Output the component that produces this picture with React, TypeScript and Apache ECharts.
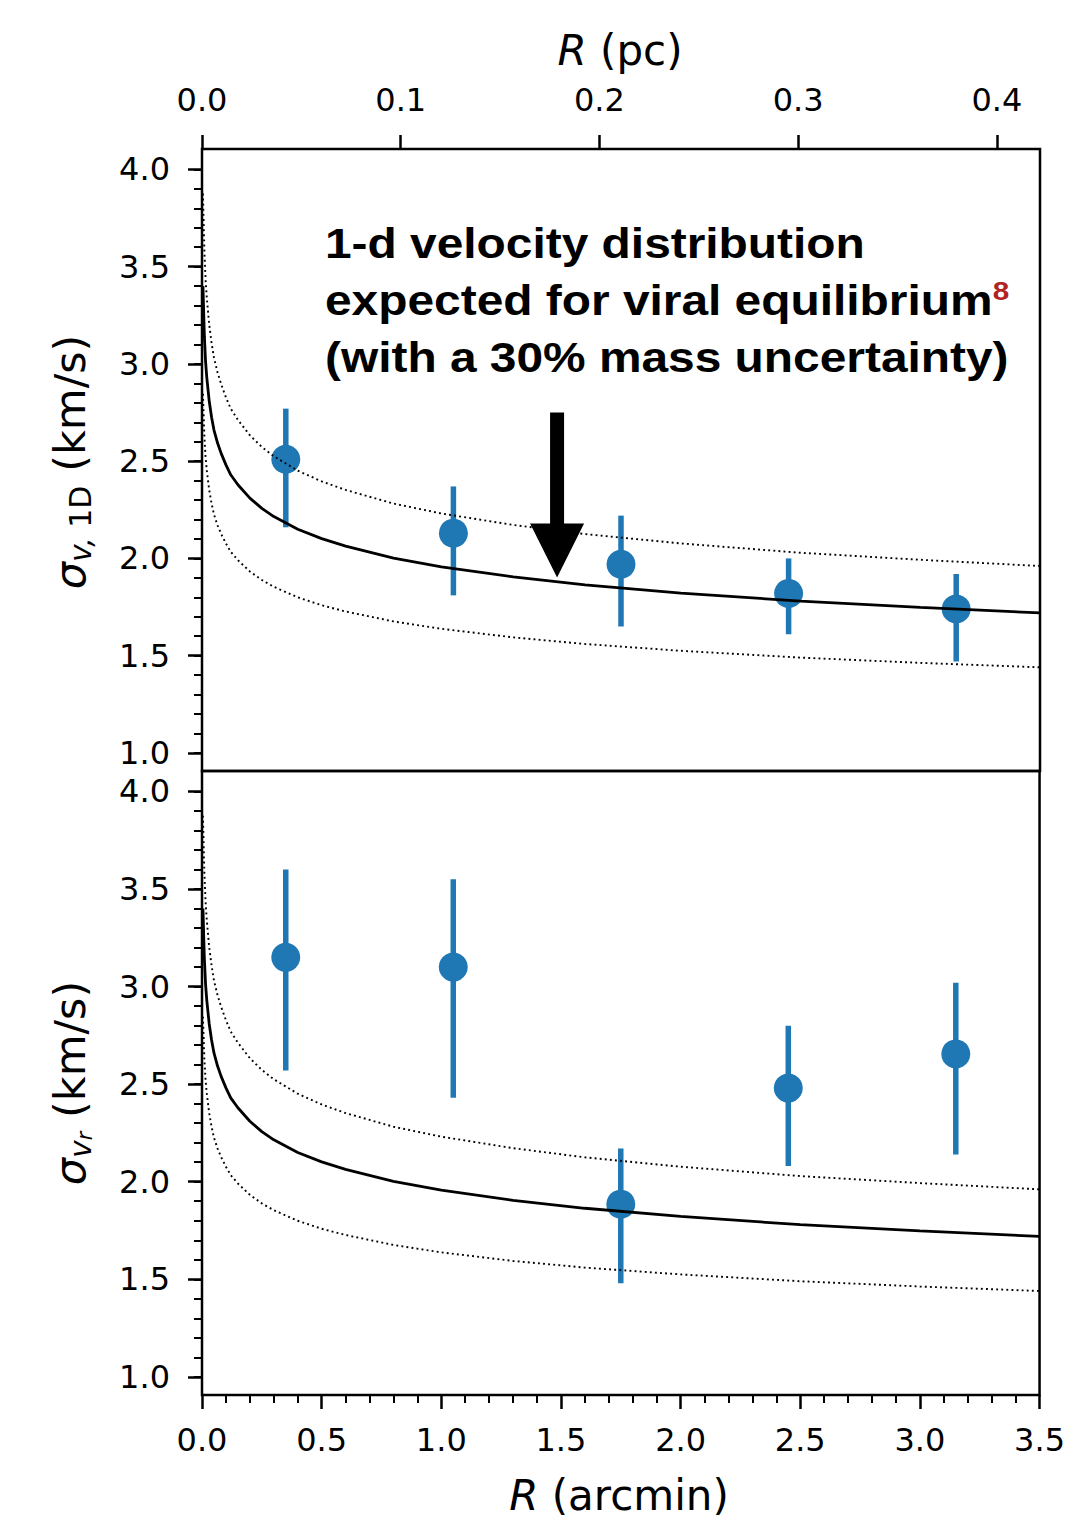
import React, { useEffect, useRef } from "react";
import * as echarts from "echarts";

// ---- data ----
const R_PTS = [0.35, 1.05, 1.75, 2.45, 3.15]; // arcmin
const SIG1D = [2.51, 2.13, 1.97, 1.82, 1.74];
const SIG1D_LO = [2.16, 1.81, 1.65, 1.61, 1.47];
const SIG1D_HI = [2.77, 2.37, 2.22, 2.0, 1.92];
const SIGR = [3.15, 3.1, 1.885, 2.48, 2.655];
const SIGR_LO = [2.57, 2.43, 1.48, 2.08, 2.14];
const SIGR_HI = [3.6, 3.55, 2.17, 2.8, 3.02];

// virial-equilibrium model curves
const R_CURVE = [0.004, 0.006, 0.008, 0.01, 0.015, 0.02, 0.03, 0.04, 0.05, 0.065, 0.08, 0.1, 0.12, 0.15, 0.2, 0.25, 0.3, 0.4, 0.5, 0.6, 0.8, 1.0, 1.3, 1.6, 2.0, 2.5, 3.0, 3.5];
const MODEL = [3.4, 3.31, 3.22, 3.14, 3.01, 2.93, 2.81, 2.726, 2.66, 2.593, 2.54, 2.481, 2.43, 2.379, 2.31, 2.257, 2.215, 2.15, 2.102, 2.063, 2.002, 1.957, 1.905, 1.864, 1.822, 1.78, 1.748, 1.72];
const MODEL_HI = [3.876, 3.773, 3.671, 3.58, 3.431, 3.34, 3.203, 3.108, 3.032, 2.956, 2.896, 2.828, 2.77, 2.712, 2.633, 2.573, 2.525, 2.451, 2.396, 2.352, 2.282, 2.231, 2.172, 2.125, 2.077, 2.029, 1.993, 1.961];
const MODEL_LO = [2.846, 2.77, 2.695, 2.628, 2.519, 2.452, 2.352, 2.282, 2.226, 2.17, 2.126, 2.077, 2.034, 1.991, 1.933, 1.889, 1.854, 1.8, 1.759, 1.727, 1.676, 1.638, 1.594, 1.56, 1.525, 1.49, 1.463, 1.44];

// arrow annotation: [R, tail value, tip value]
const ARROW = [1.483, 2.75, 1.902];

// ticks
const PC_TICKS = [0.0, 0.1, 0.2, 0.3, 0.4];
const SIG_TICKS = [1.0, 1.5, 2.0, 2.5, 3.0, 3.5, 4.0];
const SIG_MINOR = [1.0, 1.1, 1.2, 1.3, 1.4, 1.5, 1.6, 1.7, 1.8, 1.9, 2.0, 2.1, 2.2, 2.3, 2.4, 2.5, 2.6, 2.7, 2.8, 2.9, 3.0, 3.1, 3.2, 3.3, 3.4, 3.5, 3.6, 3.7, 3.8, 3.9, 4.0];

const ARCMIN_MIN = 0;
const ARCMIN_MAX = 3.5;
const PC_MAX = 0.4217;
const Y_MIN = 0.907;
const Y_MAX = 4.105;

const BLUE = "#1f77b4";
const FONT = "DejaVu Sans";

export default function App() {
  const ref = useRef<HTMLDivElement>(null);

  useEffect(() => {
    if (!ref.current) return;
    const chart = echarts.init(ref.current, null, { renderer: "svg" });

    const tickLabel = {
      fontFamily: FONT,
      fontSize: 32,
      color: "#000",
    };

    const majorY = (grid: number) => ({
      type: "value",
      gridIndex: grid,
      position: "left",
      min: Y_MIN,
      max: Y_MAX,
      axisLine: { show: false },
      splitLine: { show: false },
      axisTick: {
        show: true,
        length: 14,
        customValues: SIG_TICKS,
        lineStyle: { color: "#000", width: 2.5 },
      },
      axisLabel: {
        ...tickLabel,
        margin: 32,
        customValues: SIG_TICKS,
        formatter: (v: number) => v.toFixed(1),
      },
    });
    const minorY = (grid: number) => ({
      type: "value",
      gridIndex: grid,
      position: "left",
      min: Y_MIN,
      max: Y_MAX,
      axisLine: { show: false },
      splitLine: { show: false },
      axisLabel: { show: false },
      axisTick: {
        show: true,
        length: 8,
        customValues: SIG_MINOR,
        lineStyle: { color: "#000", width: 2 },
      },
    });

    const curveSeries = (xi: number, yi: number) => [
      {
        type: "line",
        xAxisIndex: xi,
        yAxisIndex: yi,
        data: R_CURVE.map((r, i) => [r, MODEL[i]]),
        showSymbol: false,
        symbol: "none",
        lineStyle: { color: "#000", width: 2.8 },
        z: 5,
        silent: true,
      },
      {
        type: "line",
        xAxisIndex: xi,
        yAxisIndex: yi,
        data: R_CURVE.map((r, i) => [r, MODEL_HI[i]]),
        showSymbol: false,
        symbol: "none",
        lineStyle: { color: "#000", width: 1.9, type: [1.9, 3.2] },
        z: 5,
        silent: true,
      },
      {
        type: "line",
        xAxisIndex: xi,
        yAxisIndex: yi,
        data: R_CURVE.map((r, i) => [r, MODEL_LO[i]]),
        showSymbol: false,
        symbol: "none",
        lineStyle: { color: "#000", width: 1.9, type: [1.9, 3.2] },
        z: 5,
        silent: true,
      },
    ];

    const pointSeries = (xi: number, yi: number, v: number[], lo: number[], hi: number[]) => [
      {
        type: "custom",
        xAxisIndex: xi,
        yAxisIndex: yi,
        data: R_PTS.map((r, i) => [r, lo[i], hi[i]]),
        encode: { x: 0, y: [1, 2] },
        renderItem: (params: any, api: any) => {
          const p1 = api.coord([api.value(0), api.value(1)]);
          const p2 = api.coord([api.value(0), api.value(2)]);
          return {
            type: "line",
            shape: { x1: p1[0], y1: p1[1], x2: p2[0], y2: p2[1] },
            style: { stroke: BLUE, lineWidth: 5.5 },
          };
        },
        z: 2,
        silent: true,
      },
      {
        type: "scatter",
        xAxisIndex: xi,
        yAxisIndex: yi,
        data: R_PTS.map((r, i) => [r, v[i]]),
        symbol: "circle",
        symbolSize: 29,
        itemStyle: { color: BLUE, opacity: 1 },
        z: 3,
        silent: true,
      },
    ];

    const arrowSeries = {
      type: "custom",
      xAxisIndex: 0,
      yAxisIndex: 0,
      data: [ARROW],
      encode: { x: 0, y: [1, 2] },
      renderItem: (params: any, api: any) => {
        const top = api.coord([api.value(0), api.value(1)]);
        const tip = api.coord([api.value(0), api.value(2)]);
        const x = tip[0];
        const headLen = 54;
        const headHalf = 27;
        const shaftHalf = 7;
        const hb = tip[1] - headLen;
        return {
          type: "polygon",
          shape: {
            points: [
              [x - shaftHalf, top[1]],
              [x + shaftHalf, top[1]],
              [x + shaftHalf, hb],
              [x + headHalf, hb],
              [x, tip[1]],
              [x - headHalf, hb],
              [x - shaftHalf, hb],
            ],
          },
          style: { fill: "#000" },
        };
      },
      z: 6,
      silent: true,
    };

    const annFont = {
      fontFamily: "Liberation Sans",
      fontWeight: "bold",
      fontSize: 42,
      fill: "#000",
    };
    const ANN_SCALE = 1.14;

    const option: any = {
      animation: false,
      backgroundColor: "#fff",
      grid: [
        { left: 202, top: 149, width: 838, height: 622, show: true, borderColor: "#000", borderWidth: 2.5, backgroundColor: "transparent" },
        { left: 202, top: 771, width: 838, height: 624, show: true, borderColor: "#000", borderWidth: 2.5, backgroundColor: "transparent" },
      ],
      xAxis: [
        {
          type: "value",
          gridIndex: 0,
          position: "bottom",
          min: ARCMIN_MIN,
          max: ARCMIN_MAX,
          show: false,
          splitLine: { show: false },
        },
        {
          type: "value",
          gridIndex: 0,
          position: "top",
          min: 0,
          max: PC_MAX,
          axisLine: { show: false },
          splitLine: { show: false },
          axisTick: {
            show: true,
            length: 14,
            customValues: PC_TICKS,
            lineStyle: { color: "#000", width: 2.5 },
          },
          axisLabel: {
            ...tickLabel,
            margin: 33,
            customValues: PC_TICKS,
            formatter: (v: number) => v.toFixed(1),
          },
        },
        {
          type: "value",
          gridIndex: 1,
          position: "bottom",
          min: ARCMIN_MIN,
          max: ARCMIN_MAX,
          interval: 0.5,
          axisLine: { show: false },
          splitLine: { show: false },
          axisTick: { show: true, length: 14, lineStyle: { color: "#000", width: 2.5 } },
          minorTick: { show: true, splitNumber: 5, length: 8, lineStyle: { color: "#000", width: 2 } },
          axisLabel: {
            ...tickLabel,
            margin: 29,
            showMinLabel: true,
            showMaxLabel: true,
            formatter: (v: number) => v.toFixed(1),
          },
        },
      ],
      yAxis: [majorY(0), minorY(0), majorY(1), minorY(1)],
      series: [
        ...pointSeries(0, 0, SIG1D, SIG1D_LO, SIG1D_HI),
        ...curveSeries(0, 0),
        arrowSeries,
        ...pointSeries(2, 2, SIGR, SIGR_LO, SIGR_HI),
        ...curveSeries(2, 2),
      ],
      graphic: [
        {
          type: "text",
          x: 620,
          y: 50,
          style: {
            text: "{i|R}{n| (pc)}",
            align: "center",
            verticalAlign: "middle",
            rich: {
              i: { fontFamily: FONT, fontSize: 42, fontStyle: "italic", fill: "#000" },
              n: { fontFamily: FONT, fontSize: 42, fill: "#000" },
            },
          },
        },
        {
          type: "text",
          x: 619,
          y: 1495,
          style: {
            text: "{i|R}{n| (arcmin)}",
            align: "center",
            verticalAlign: "middle",
            rich: {
              i: { fontFamily: FONT, fontSize: 42, fontStyle: "italic", fill: "#000" },
              n: { fontFamily: FONT, fontSize: 42, fill: "#000" },
            },
          },
        },
        {
          type: "text",
          x: 70,
          y: 462,
          rotation: Math.PI / 2,
          style: {
            text: "{s|σ}{sub|v,}{sub2| 1D}{n| (km/s)}",
            align: "center",
            verticalAlign: "middle",
            rich: {
              s: { fontFamily: FONT, fontSize: 43, fontStyle: "italic", lineHeight: 50, fill: "#000" },
              sub: { fontFamily: FONT, fontSize: 30, fontStyle: "italic", lineHeight: 30, verticalAlign: "bottom", fill: "#000" },
              sub2: { fontFamily: FONT, fontSize: 30, lineHeight: 30, verticalAlign: "bottom", fill: "#000" },
              n: { fontFamily: FONT, fontSize: 43, lineHeight: 50, fill: "#000" },
            },
          },
        },
        {
          type: "text",
          x: 70,
          y: 1083,
          rotation: Math.PI / 2,
          style: {
            text: "{s|σ}{sub|v}{subsub|r}{n| (km/s)}",
            align: "center",
            verticalAlign: "middle",
            rich: {
              s: { fontFamily: FONT, fontSize: 43, fontStyle: "italic", lineHeight: 50, fill: "#000" },
              sub: { fontFamily: FONT, fontSize: 30, fontStyle: "italic", lineHeight: 30, verticalAlign: "bottom", fill: "#000" },
              subsub: { fontFamily: FONT, fontSize: 21, fontStyle: "italic", lineHeight: 12, verticalAlign: "bottom", fill: "#000" },
              n: { fontFamily: FONT, fontSize: 43, lineHeight: 50, fill: "#000" },
            },
          },
        },
        {
          type: "text",
          x: 325,
          y: 244,
          scaleX: ANN_SCALE,
          style: { text: "1-d velocity distribution", align: "left", verticalAlign: "middle", ...annFont },
        },
        {
          type: "text",
          x: 325,
          y: 301,
          scaleX: ANN_SCALE,
          style: {
            text: "{a|expected for viral equilibrium}{s|8}",
            align: "left",
            verticalAlign: "middle",
            rich: {
              a: { ...annFont, lineHeight: 46 },
              s: { fontFamily: "Liberation Sans", fontWeight: "bold", fontSize: 26, lineHeight: 34, verticalAlign: "top", fill: "#b22222" },
            },
          },
        },
        {
          type: "text",
          x: 325,
          y: 358,
          scaleX: ANN_SCALE,
          style: { text: "(with a 30% mass uncertainty)", align: "left", verticalAlign: "middle", ...annFont },
        },
      ],
    };

    chart.setOption(option);
    return () => chart.dispose();
  }, []);

  return (
    <div
      ref={ref}
      style={{ position: "fixed", left: 0, top: 0, width: 1068, height: 1518, background: "#fff" }}
    />
  );
}
